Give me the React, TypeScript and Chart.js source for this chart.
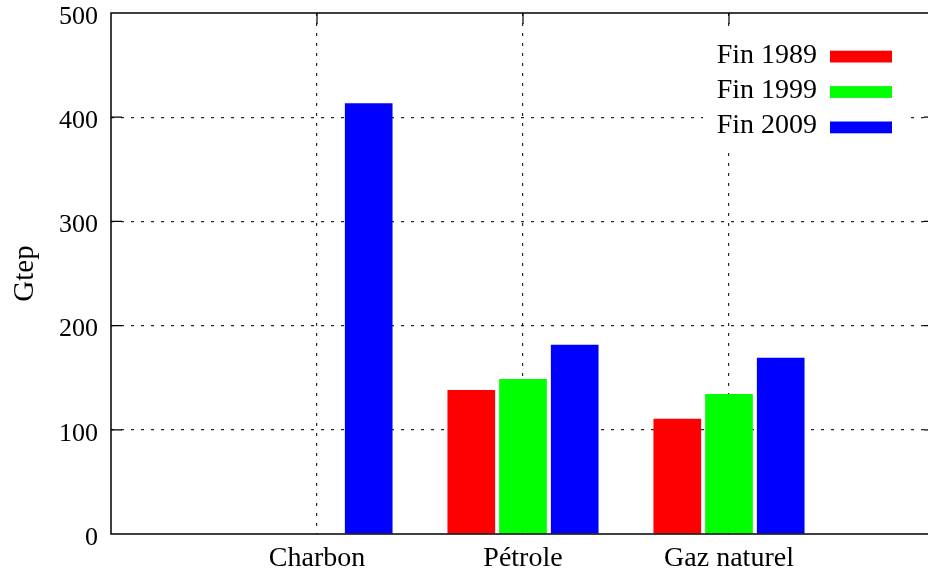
import React, { useEffect, useRef } from "react";
import { Chart, registerables } from "chart.js";

Chart.register(...registerables);

const categories = ["Charbon", "Pétrole", "Gaz naturel"];
const seriesLabels = ["Fin 1989", "Fin 1999", "Fin 2009"];
const fin1989: (number | null)[] = [null, 138.2, 110.7];
const fin1999: (number | null)[] = [null, 148.8, 134.4];
const fin2009: (number | null)[] = [413.3, 181.7, 169.2];
const seriesValues = [fin1989, fin1999, fin2009];
const seriesColors = ["#ff0000", "#00ff00", "#0000ff"];
const yTickValues = [0, 100, 200, 300, 400, 500];
const yTitle = "Gtep";

const FONT = "'Liberation Serif', 'Times New Roman', serif";

const framePlugin = {
  id: "frame",
  afterDatasetsDraw(chart: any) {
    const { ctx, chartArea } = chart;
    const { left, right, top, bottom } = chartArea;
    const xs = chart.scales.x;
    const ys = chart.scales.y;
    ctx.save();
    // opaque legend box
    ctx.fillStyle = "#fff";
    ctx.fillRect(703, top + 19, 203, 118);
    ctx.strokeStyle = "#000";
    ctx.lineWidth = 1.5;
    ctx.setLineDash([]);
    ctx.strokeRect(left, top, right - left, bottom - top);
    ctx.lineWidth = 1.2;
    const tl = 11;
    yTickValues.forEach((v) => {
      if (v === yTickValues[0] || v === yTickValues[yTickValues.length - 1]) return;
      const y = ys.getPixelForValue(v);
      ctx.beginPath();
      ctx.moveTo(left, y);
      ctx.lineTo(left + tl, y);
      ctx.moveTo(right, y);
      ctx.lineTo(right - tl, y);
      ctx.stroke();
    });
    categories.forEach((_, i) => {
      const x = xs.getPixelForValue(i);
      ctx.beginPath();
      ctx.moveTo(x, top);
      ctx.lineTo(x, top + tl);
      ctx.stroke();
    });
    // legend
    ctx.font = `28px ${FONT}`;
    ctx.textAlign = "right";
    ctx.textBaseline = "alphabetic";
    chart.data.datasets.forEach((ds: any, i: number) => {
      const base = top + 49.5 + i * 35.4;
      ctx.fillStyle = "#000";
      ctx.fillText(ds.label, 817, base);
      ctx.fillStyle = ds.backgroundColor;
      ctx.fillRect(830, base - 11.8, 62, 11.8);
    });
    ctx.restore();
  },
};

export default function App() {
  const ref = useRef<HTMLCanvasElement | null>(null);
  useEffect(() => {
    if (!ref.current) return;
    const chart = new Chart(ref.current, {
      type: "bar",
      data: {
        datasets: seriesValues.map((vals, si) => ({
          label: seriesLabels[si],
          data: categories.map((_, i) => ({ x: i, y: vals[i] })) as any,
          backgroundColor: seriesColors[si],
          borderWidth: 0,
          categoryPercentage: 0.753,
          barPercentage: 0.922,
        })),
      },
      options: {
        responsive: false,
        animation: false,
        layout: { padding: { top: 13, right: 1, left: 0, bottom: 0 } },
        plugins: {
          legend: { display: false },
          tooltip: { enabled: false },
        },
        scales: {
          x: {
            type: "linear",
            min: -1,
            max: 3,
            offset: false,
            afterBuildTicks: (s: any) => {
              s.ticks = [-1, 0, 1, 2, 3].map((v) => ({ value: v }));
            },
            afterFit: (s: any) => {
              s.height = 40;
              s.paddingLeft = 0;
              s.paddingRight = 0;
            },
            border: { display: false, dash: [3, 7] },
            grid: {
              offset: false,
              drawTicks: false,
              color: (c: any) =>
                c.tick && c.tick.value >= 0 && c.tick.value < categories.length
                  ? "rgba(0,0,0,0.85)"
                  : "rgba(0,0,0,0)",
              lineWidth: 1.2,
            },
            ticks: {
              autoSkip: false,
              maxRotation: 0,
              padding: 8,
              color: "#000",
              font: { family: FONT, size: 28 },
              callback: (v: any) => {
                const i = Number(v);
                return Number.isInteger(i) && i >= 0 && i < categories.length ? categories[i] : "";
              },
            },
          },
          y: {
            min: yTickValues[0],
            max: yTickValues[yTickValues.length - 1],
            afterBuildTicks: (s: any) => {
              s.ticks = yTickValues.map((v) => ({ value: v }));
            },
            afterFit: (s: any) => {
              s.width = 111;
              s.paddingTop = 0;
              s.paddingBottom = 0;
            },
            border: { display: false, dash: [3, 7] },
            grid: {
              drawTicks: false,
              color: (c: any) =>
                c.tick && c.tick.value > yTickValues[0] && c.tick.value < yTickValues[yTickValues.length - 1]
                  ? "rgba(0,0,0,0.85)"
                  : "rgba(0,0,0,0)",
              lineWidth: 1.2,
            },
            ticks: {
              padding: 13,
              labelOffset: 4,
              color: "#000",
              font: { family: FONT, size: 26 },
            },
            title: {
              display: true,
              text: yTitle,
              color: "#000",
              font: { family: FONT, size: 29 },
              padding: { top: 8, bottom: 0 },
            },
          },
        },
      },
      plugins: [framePlugin],
    });
    return () => chart.destroy();
  }, []);
  return (
    <div style={{ position: "absolute", left: 0, top: 0, width: 928, height: 574, overflow: "hidden", background: "#fff" }}>
      <canvas ref={ref} width={936} height={574} style={{ width: 936, height: 574, display: "block" }} />
    </div>
  );
}
